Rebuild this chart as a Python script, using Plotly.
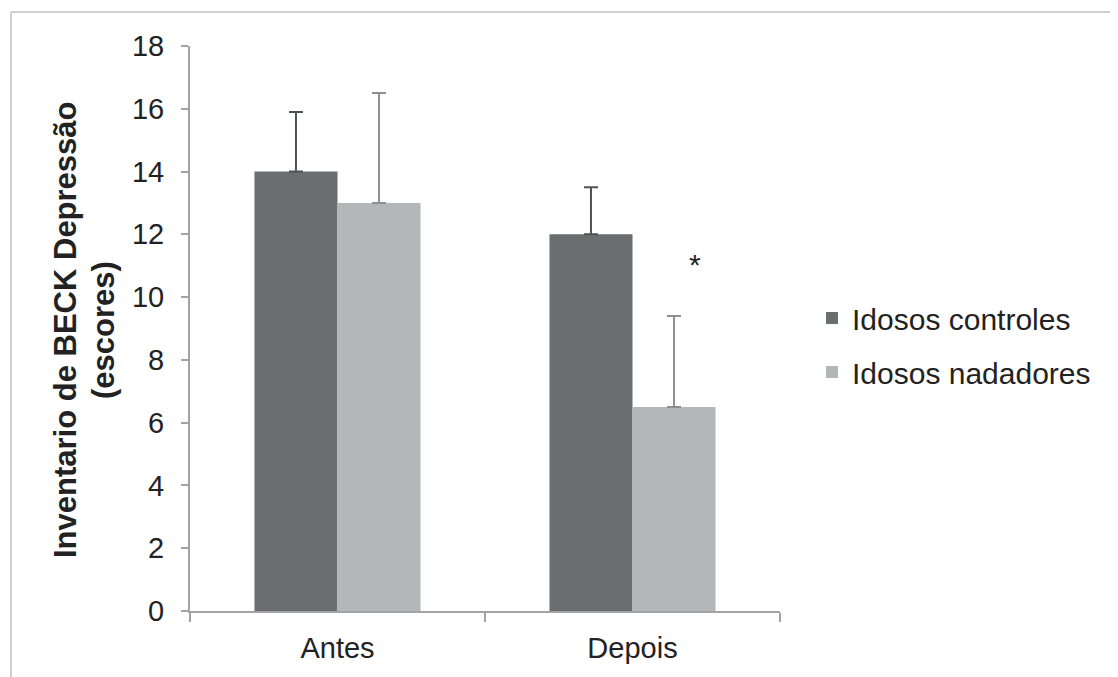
import plotly.graph_objects as go

categories = ["Antes", "Depois"]
controles = [14, 12]
nadadores = [13, 6.5]
err_controles = [1.9, 1.5]
err_nadadores = [3.5, 2.9]
series_names = ["Idosos controles", "Idosos nadadores"]
y_ticks = [0, 2, 4, 6, 8, 10, 12, 14, 16, 18]
y_title_lines = ["Inventario de BECK Depressão", "(escores)"]

FONT = "Liberation Sans, Arial, Helvetica, sans-serif"

fig = go.Figure()
fig.add_trace(go.Bar(
    x=categories, y=controles, name=series_names[0], legendgroup="a",
    marker=dict(color="#6b6e6e", line=dict(width=0)),
    error_y=dict(type="data", array=err_controles, symmetric=False,
                 arrayminus=[0, 0], color="#505353", thickness=2, width=7),
))
fig.add_trace(go.Bar(
    x=categories, y=nadadores, name=series_names[1], legendgroup="b",
    marker=dict(color="#b5b6b8", line=dict(width=0)),
    error_y=dict(type="data", array=err_nadadores, symmetric=False,
                 arrayminus=[0, 0], color="#8d8f90", thickness=2, width=7),
))

fig.add_annotation(x="Depois", y=11.05, text="*", showarrow=False, xshift=62,
                   font=dict(size=30, color="#222", family=FONT))

# page has an 8px body margin; the figure is sized so that it fills the 1118x677 window
OFF = 8
W, H = 1110, 669
L, R, T, B = 182, 338, 38, 66
pw, ph = W - L - R, H - T - B

def px_x(p):
    return (p - OFF - L) / pw

def px_y(p):
    return (H - B - (p - OFF)) / ph

# y-axis title as two rotated lines (tighter line spacing than plotly's default)
for txt, cx in zip(y_title_lines, [66, 104]):
    fig.add_annotation(xref="paper", yref="paper", x=px_x(cx), y=px_y(330),
                       xanchor="center", yanchor="middle", textangle=-90,
                       text="<b>" + txt + "</b>", showarrow=False,
                       font=dict(size=31, color="#222", family=FONT))

fig.add_shape(type="line", xref="paper", yref="paper",
              x0=px_x(11), y0=px_y(690), x1=px_x(11), y1=px_y(12),
              line=dict(color="#cfcfcf", width=2))
fig.add_shape(type="line", xref="paper", yref="paper",
              x0=px_x(11), y0=px_y(12), x1=px_x(1130), y1=px_y(12),
              line=dict(color="#cfcfcf", width=2))

fig.update_layout(
    width=W, height=H,
    margin=dict(l=L, r=R, t=T, b=B),
    paper_bgcolor="white", plot_bgcolor="white",
    barmode="group", bargap=0.437, bargroupgap=0,
    font=dict(family=FONT, color="#222"),
    showlegend=True,
    legend=dict(x=px_x(812), y=px_y(345), xanchor="left", yanchor="middle",
                font=dict(size=30, color="#222", family=FONT),
                tracegroupgap=12, itemclick=False, bgcolor="rgba(0,0,0,0)"),
    xaxis=dict(type="category", showline=True, linecolor="#a3a3a3", linewidth=2,
               ticks="outside", tickson="boundaries", ticklen=9, tickcolor="#a3a3a3",
               tickwidth=2, tickfont=dict(size=29, color="#222", family=FONT),
               ticklabelstandoff=10,
               showgrid=False, zeroline=False),
    yaxis=dict(range=[0, 18], tickvals=y_ticks, showline=True, linecolor="#a3a3a3",
               linewidth=2, ticks="outside", ticklen=7, tickcolor="#a3a3a3", tickwidth=2,
               tickfont=dict(size=29, color="#222", family=FONT),
               ticklabelstandoff=11,
               showgrid=False, zeroline=False),
)

fig.write_html("out.html")
